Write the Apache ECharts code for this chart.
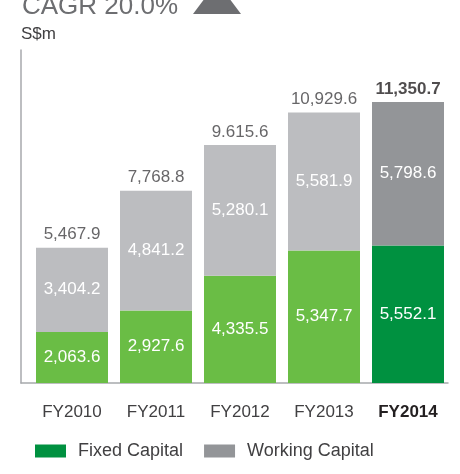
<!DOCTYPE html>
<html>
<head>
<meta charset="utf-8">
<script src="https://cdn.jsdelivr.net/npm/echarts@6/dist/echarts.min.js"></script>
<style>
  html, body { margin: 0; padding: 0; background: #fff; }
  #chart { width: 460px; height: 474px; }
</style>
</head>
<body>
<div id="chart"></div>
<script>
// Capital employed, S$m
const years = ['FY2010', 'FY2011', 'FY2012', 'FY2013', 'FY2014'];
const fixedCapital = [2063.6, 2927.6, 4335.5, 5347.7, 5552.1];
const workingCapital = [3404.2, 4841.2, 5280.1, 5581.9, 5798.6];
const totals = [5467.9, 7768.8, 9615.6, 10929.6, 11350.7];
const totalLabels = ['5,467.9', '7,768.8', '9.615.6', '10,929.6', '11,350.7'];

const FONT = '"Liberation Sans", Arial, sans-serif';
const fmt = v => v.toLocaleString('en-US', { minimumFractionDigits: 1, maximumFractionDigits: 1 });
const last = years.length - 1;

const chart = echarts.init(document.getElementById('chart'));

const innerLabel = {
  show: true,
  position: 'inside',
  color: '#fff',
  fontSize: 17,
  fontFamily: FONT,
  formatter: p => fmt(p.value)
};

chart.setOption({
  backgroundColor: '#fff',
  animation: false,
  textStyle: { fontFamily: FONT },
  grid: [
    { left: 30, right: 10, top: 50, height: 333 },
    { left: 21, right: 12, top: 50, height: 333 }
  ],
  xAxis: [{
    type: 'category',
    data: years,
    gridIndex: 0,
    axisLine: { show: false },
    axisTick: { show: false },
    axisLabel: {
      interval: 0,
      margin: 21,
      fontSize: 17,
      color: '#414042',
      fontFamily: FONT,
      formatter: (v, i) => i === last ? '{b|' + v + '}' : v,
      rich: { b: { fontSize: 17, fontWeight: 'bold', color: '#231f20', fontFamily: FONT } }
    }
  }, {
    type: 'value',
    gridIndex: 1,
    min: 0, max: 1,
    axisLine: { show: true, lineStyle: { color: '#a7a9ac', width: 1.5 } },
    axisTick: { show: false },
    axisLabel: { show: false },
    splitLine: { show: false }
  }],
  yAxis: [{
    type: 'value',
    gridIndex: 0,
    min: 0, max: 13450,
    axisLine: { show: false },
    axisTick: { show: false },
    axisLabel: { show: false },
    splitLine: { show: false }
  }, {
    type: 'value',
    gridIndex: 1,
    min: 0, max: 1,
    name: 'S$m',
    nameLocation: 'end',
    nameGap: 7,
    nameTextStyle: { align: 'left', fontSize: 17, color: '#414042', fontFamily: FONT },
    axisLine: { show: true, lineStyle: { color: '#a7a9ac', width: 1.5 } },
    axisTick: { show: false },
    axisLabel: { show: false },
    splitLine: { show: false }
  }],
  legend: {
    data: ['Fixed Capital', 'Working Capital'],
    left: 35,
    top: 442,
    padding: 0,
    icon: 'rect',
    itemWidth: 31,
    itemHeight: 13,
    itemGap: 21,
    textStyle: { fontSize: 18, color: '#414042', fontFamily: FONT, padding: [0, 0, 0, 7] }
  },
  series: [{
    name: 'Fixed Capital',
    type: 'bar',
    stack: 'cap',
    barWidth: 72,
    itemStyle: { color: '#009140' },
    label: innerLabel,
    data: fixedCapital.map((v, i) => i === last ? v : { value: v, itemStyle: { color: '#6abd45' } })
  }, {
    name: 'Working Capital',
    type: 'bar',
    stack: 'cap',
    barWidth: 72,
    itemStyle: { color: '#939598' },
    label: innerLabel,
    data: workingCapital.map((v, i) => i === last ? v : { value: v, itemStyle: { color: '#bcbdc0' } })
  }, {
    name: 'Total',
    type: 'scatter',
    symbolSize: 1,
    itemStyle: { color: 'rgba(0,0,0,0)' },
    silent: true,
    data: totals.map((v, i) => ({
      value: v,
      label: {
        show: true,
        position: 'top',
        distance: 4,
        fontSize: 17,
        fontFamily: FONT,
        fontWeight: i === last ? 'bold' : 'normal',
        color: i === last ? '#231f20' : '#414042',
        formatter: () => totalLabels[i]
      }
    }))
  }],
  graphic: [{
    type: 'text',
    left: 22,
    top: -6,
    style: { text: 'CAGR 20.0%', font: '26px ' + FONT, fill: '#6d6e71' }
  }, {
    type: 'polygon',
    shape: { points: [[193, 14], [241, 14], [217, -18]] },
    style: { fill: '#6d6e71' }
  }]
});
</script>
</body>
</html>
